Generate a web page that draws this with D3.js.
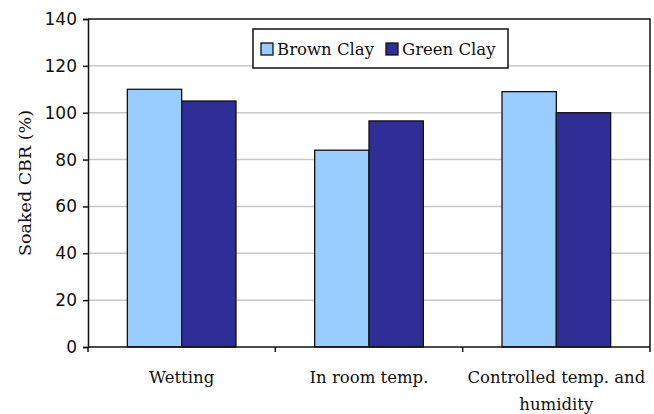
<!DOCTYPE html>
<html>
<head>
<meta charset="utf-8">
<script src="https://cdn.jsdelivr.net/npm/d3@7"></script>
<style>
  body { margin: 0; background: #fff; }
  svg text { font-family: "DejaVu Serif", "Liberation Serif", serif; fill: #111; }
</style>
</head>
<body>
<svg id="chart" width="654" height="414"></svg>
<script>
// chart data
const categories = ["Wetting", "In room temp.", "Controlled temp. and humidity"];
const series = ["Brown Clay", "Green Clay"];
const brownClay = [110, 84, 109];
const greenClay = [105, 96.5, 100];
const yTicks = [0, 20, 40, 60, 80, 100, 120, 140];

const colors = { "Brown Clay": "#99ccff", "Green Clay": "#2e2e96" };

const width = 654, height = 414;
const margin = { top: 19, right: 4, bottom: 67, left: 88 };
const innerW = width - margin.left - margin.right;
const innerH = height - margin.top - margin.bottom;

const svg = d3.select("#chart");
const g = svg.append("g").attr("transform", `translate(${margin.left},${margin.top})`);

const x = d3.scaleBand().domain(categories).range([0, innerW]).paddingInner(0.42).paddingOuter(0.21);
const x1 = d3.scaleBand().domain(series).range([0, x.bandwidth()]);
const y = d3.scaleLinear().domain([0, 140]).range([innerH, 0]);

// gridlines
g.selectAll(".grid")
  .data(yTicks.filter(t => t > 0 && t < 140))
  .enter().append("line")
  .attr("x1", 0).attr("x2", innerW)
  .attr("y1", d => y(d)).attr("y2", d => y(d))
  .attr("stroke", "#c8c8c8").attr("stroke-width", 1.5);

// plot frame top / right
g.append("path")
  .attr("d", `M0,0H${innerW}V${innerH}`)
  .attr("fill", "none").attr("stroke", "#111").attr("stroke-width", 1.5);

// bars
const rows = categories.map((c, i) => ({ cat: c, vals: [brownClay[i], greenClay[i]] }));
const groups = g.selectAll(".grp").data(rows).enter().append("g")
  .attr("transform", d => `translate(${x(d.cat)},0)`);
groups.selectAll("rect")
  .data(d => d.vals.map((v, j) => ({ s: series[j], v })))
  .enter().append("rect")
  .attr("x", d => x1(d.s))
  .attr("y", d => y(d.v))
  .attr("width", x1.bandwidth())
  .attr("height", d => innerH - y(d.v))
  .attr("fill", d => colors[d.s])
  .attr("stroke", "#111").attr("stroke-width", 1.3);

// y axis
const yAxis = g.append("g")
  .call(d3.axisLeft(y).tickValues(yTicks).tickSize(5).tickPadding(6));
yAxis.select(".domain").attr("stroke", "#111").attr("stroke-width", 1.5);
yAxis.selectAll(".tick line").attr("stroke", "#111").attr("stroke-width", 1.5);
yAxis.selectAll("text").attr("font-size", 17).style("font-family", "DejaVu Sans, sans-serif");

// x axis: baseline plus ticks between categories
const xAxis = g.append("g").attr("transform", `translate(0,${innerH})`);
xAxis.append("line").attr("x1", 0).attr("x2", innerW).attr("stroke", "#111").attr("stroke-width", 1.5);
xAxis.selectAll(".xt").data(d3.range(categories.length + 1)).enter().append("line")
  .attr("x1", i => i * innerW / categories.length).attr("x2", i => i * innerW / categories.length)
  .attr("y1", 0).attr("y2", 5)
  .attr("stroke", "#111").attr("stroke-width", 1.5);

const labelLines = { "Controlled temp. and humidity": ["Controlled temp. and", "humidity"] };
xAxis.selectAll(".xl").data(categories).enter().append("text")
  .attr("x", d => x(d) + x.bandwidth() / 2)
  .attr("y", 36)
  .attr("text-anchor", "middle")
  .attr("font-size", 16.5)
  .each(function(d) {
    const lines = labelLines[d] || [d];
    d3.select(this).selectAll("tspan").data(lines).enter().append("tspan")
      .attr("x", x(d) + x.bandwidth() / 2)
      .attr("dy", (l, i) => i === 0 ? 0 : 27)
      .text(l => l);
  });

// y title
svg.append("text")
  .attr("transform", `translate(31,${margin.top + innerH / 2}) rotate(-90)`)
  .attr("text-anchor", "middle")
  .attr("font-size", 17.5)
  .text("Soaked CBR (%)");

// legend
const legend = svg.append("g").attr("transform", "translate(253,29)");
legend.append("rect").attr("width", 255).attr("height", 39)
  .attr("fill", "#fff").attr("stroke", "#111").attr("stroke-width", 1.5);
const items = legend.selectAll(".li").data(series).enter().append("g")
  .attr("transform", (d, i) => `translate(${i === 0 ? 8 : 133},20)`);
items.append("rect").attr("x", 0).attr("y", -6).attr("width", 12).attr("height", 12)
  .attr("fill", d => colors[d]).attr("stroke", "#111").attr("stroke-width", 1.3);
items.append("text").attr("x", 16).attr("y", 6).attr("font-size", 16.5).text(d => d);
</script>
</body>
</html>
